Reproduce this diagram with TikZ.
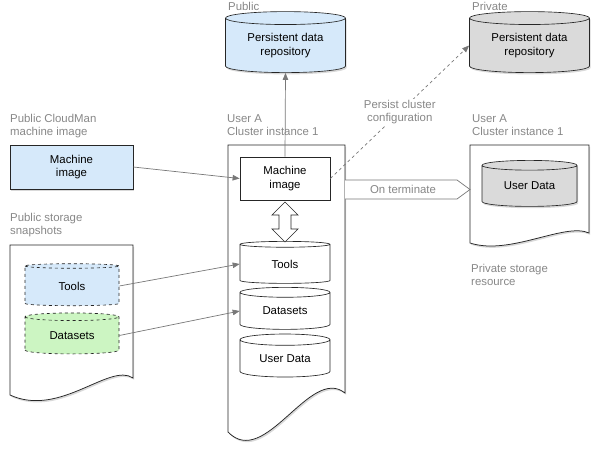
\documentclass[tikz,border=0pt]{standalone}
\usepackage{fontspec}
\setmainfont{Liberation Sans}
\usetikzlibrary{shapes.geometric,shadows,arrows.meta}
\definecolor{pblue}{RGB}{214,233,250}
\definecolor{pgreen}{RGB}{204,245,194}
\definecolor{pgray}{RGB}{218,218,218}
\definecolor{lbl}{RGB}{135,135,135}
\definecolor{conn}{RGB}{120,120,120}
\newcommand\dfont{\fontsize{11.4}{13.5}\selectfont}
\tikzset{
  shd/.style={drop shadow={shadow xshift=1.2pt, shadow yshift=-1.8pt, opacity=0.3}},
  box/.style={draw=black!85, line width=0.75pt, align=center, font=\dfont, inner sep=0pt},
  db/.style={cylinder, shape border rotate=90, draw=black!85, line width=0.65pt, align=center, font=\dfont, inner sep=0pt},
  lab/.style={text=lbl, align=left, anchor=north west, inner sep=0pt, font=\dfont},
  docshape/.style={draw=black!85, line width=0.75pt, fill=white, shd},
  conn/.style={draw=conn, line width=0.7pt, -{Triangle[length=7pt,width=5.5pt]}},
}
\begin{document}
\begin{tikzpicture}[x=1pt,y=-1pt]
\useasboundingbox (0,0) rectangle (600,450);
% documents
\draw[docshape] (228,145) -- (345,145) -- (345,393) .. controls (310,365) and (265,470) .. (228,432) -- cycle;
\draw[docshape] (10,245) -- (133,245) -- (133,378) .. controls (110,362) and (60,418) .. (10,395) -- cycle;
\draw[docshape] (470,145) -- (589,145) -- (589,233) .. controls (565,222) and (510,256) .. (470,243) -- cycle;
% labels
\node[lab] (lpub) at (228,2) {Public};
\node[lab] (lpriv) at (472,2) {Private};
\node[lab] (lua) at (227,114) {User A\\Cluster instance 1};
\node[lab] (lub) at (472,114) {User A\\Cluster instance 1};
\node[lab] (lcm) at (10,114) {Public CloudMan\\machine image};
\node[lab] (lss) at (10,213) {Public storage\\snapshots};
\node[lab] (lps) at (471,264) {Private storage\\resource};
% nodes
\node[db, fill=pblue, shd, minimum width=120pt, minimum height=61pt, aspect=0.17] (pubrepo) at (285.5,45.5) {Persistent data\\repository};
\node[db, fill=pgray, shd, minimum width=120pt, minimum height=61pt, aspect=0.17] (privrepo) at (529.5,45.5) {Persistent data\\repository};
\node[box, fill=pblue, shd, minimum width=123pt, minimum height=44pt] (mipub) at (71.5,167) {Machine\\image};
\node[box, fill=white, minimum width=90pt, minimum height=43pt] (miclu) at (285,178.5) {Machine\\image};
\node[db, fill=white, minimum width=90pt, minimum height=42pt, aspect=0.22] (tclu) at (285,264) {Tools};
\node[db, fill=white, minimum width=90pt, minimum height=42pt, aspect=0.22] (dclu) at (285,311) {Datasets};
\node[db, fill=white, minimum width=90pt, minimum height=43pt, aspect=0.22] (uclu) at (285,358.5) {User Data};
\node[db, dashed, fill=pblue, minimum width=94pt, minimum height=42pt, aspect=0.17] (tsnap) at (72,286) {Tools};
\node[db, dashed, fill=pgreen, minimum width=94pt, minimum height=41pt, aspect=0.17] (dsnap) at (72,335.5) {Datasets};
\node[db, fill=pgray, shd, minimum width=95pt, minimum height=46pt, aspect=0.19] (upriv) at (529.5,186) {User Data};
% double arrow
\draw[fill=white, draw=black!85, line width=0.65pt] (285,202) -- (298,215) -- (291,215) -- (291,229) -- (298,229) -- (285,242) -- (272,229) -- (279,229) -- (279,215) -- (272,215) -- cycle;
% on terminate arrow
\coordinate (otA) at (345,180);
\coordinate (otB) at (457,180);
\coordinate (otT) at (470,189.5);
\coordinate (otC) at (457,199);
\coordinate (otD) at (345,199);
\draw[draw=conn, line width=0.7pt, fill=white] (otA) -- (otB) -- (otT) -- (otC) -- (otD);
\node[text=lbl, font=\dfont] (otlab) at (403,189.5) {On terminate};
% connectors
\draw[conn] (miclu.north) -- (pubrepo.south);
\draw[conn] (mipub.east) -- (miclu.west);
\draw[conn] (tsnap.east) -- (tclu.west);
\draw[conn] (dsnap.east) -- (dclu.west);
\draw[conn, dashed] (miclu.east) -- node[midway, fill=white, text=lbl, font=\dfont, align=center, inner sep=1pt] (persist) {Persist cluster\\configuration} (privrepo.west);
\end{tikzpicture}
\end{document}
